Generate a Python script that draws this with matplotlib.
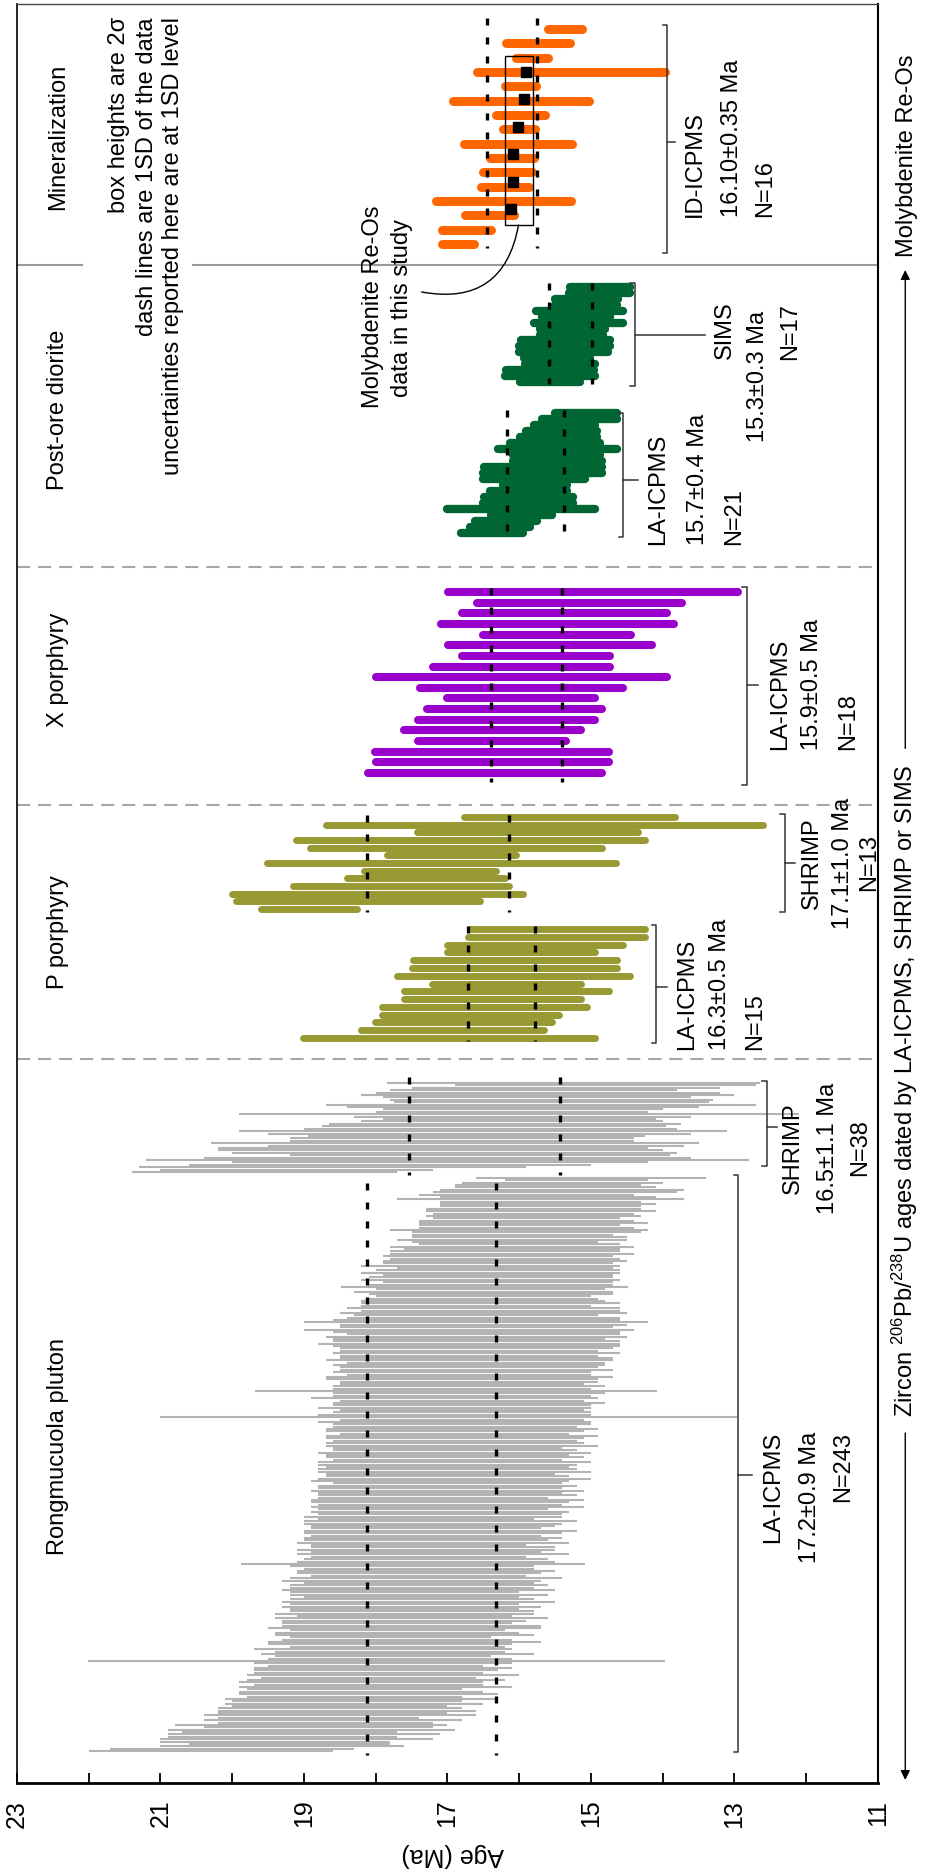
import matplotlib

matplotlib.use("Agg")
import matplotlib.pyplot as plt
import numpy as np
from matplotlib.patches import Rectangle

plt.rcParams["font.family"] = ["Liberation Sans", "DejaVu Sans"]
plt.rcParams["mathtext.fontset"] = "custom"
plt.rcParams["mathtext.rm"] = "Liberation Sans"
plt.rcParams["mathtext.default"] = "regular"

# ages (Ma) and 2-sigma errors, each list runs from the lowest bar upward

rong_la_age = [
    20.3, 20.0, 19.3, 19.2, 19.4, 19.1, 19.3, 19.0, 19.2, 18.9,
    18.8, 18.9, 18.7, 18.6, 18.8, 18.5, 18.6, 18.4, 18.5, 18.5,
    18.3, 18.4, 18.2, 18.3, 18.1, 18.2, 18.3, 18.0, 18.1, 18.2,
    18.0, 18.1, 17.9, 18.1, 18.0, 17.9, 18.0, 17.9, 17.99,
    17.8, 17.9, 17.7, 17.8, 17.9, 17.7, 17.8, 17.6, 17.7, 17.8, 17.6,
    17.7, 17.7, 17.6, 17.5, 17.7, 17.6, 17.5, 17.6, 17.6, 17.5, 17.6,
    17.5, 17.6, 17.4, 17.5, 17.5, 17.4, 17.6, 17.4, 17.5, 17.4,
    17.4, 17.5, 17.3, 17.4, 17.4, 17.3, 17.4, 17.5, 17.48, 17.3,
    17.3, 17.4, 17.2, 17.3, 17.3, 17.2, 17.4, 17.2, 17.3, 17.2,
    17.3, 17.2, 17.1, 17.3, 17.2, 17.2, 17.1, 17.3, 17.2, 17.1,
    17.1, 17.2, 17.0, 17.1, 17.1, 17.0, 17.2, 17.0, 17.1, 17.0,
    17.1, 17.0, 17.0, 17.1, 16.9, 17.0, 17.1, 16.9, 17.0, 17.0,
    17.0, 16.9, 17.0, 16.9, 17.0, 16.9, 16.9, 17.0, 16.8, 16.9,
    16.9, 16.9, 16.8, 16.9, 16.9, 16.8, 16.9, 16.8, 16.9, 16.8,
    16.99,
    16.9, 16.8, 16.8, 16.9, 16.8, 16.7, 16.8, 16.9, 16.8, 16.7,
    16.88,
    16.8, 16.7, 16.8, 16.7, 16.8, 16.7, 16.7, 16.8, 16.6, 16.7,
    16.7, 16.6, 16.7, 16.6, 16.7, 16.6, 16.7, 16.6, 16.6, 16.7,
    16.6, 16.7, 16.6, 16.5, 16.6, 16.7, 16.6, 16.5, 16.6, 16.6,
    16.5, 16.6, 16.5, 16.4, 16.5, 16.6, 16.4, 16.5,
    16.5, 16.5, 16.4, 16.5, 16.4, 16.48, 16.4, 16.3, 16.4, 16.4,
    16.3, 16.4, 16.3, 16.2, 16.4, 16.3, 16.2, 16.2, 16.3, 16.1,
    16.2, 16.1, 16.1, 16.0, 16.2, 16.1, 16.0, 16.1, 15.9, 16.0,
    15.9, 16.0, 15.8, 15.9, 15.9, 15.8, 15.8, 15.7, 15.8, 15.7,
    15.6, 15.7, 15.7, 15.6, 15.9, 15.5, 15.4, 15.5, 15.6, 15.4, 15.2, 15.0,
]
rong_la_err = [
    1.7, 1.7, 1.7, 1.4, 1.6, 1.9, 1.6, 1.9, 1.5, 2.0,
    1.6, 1.9, 1.5, 1.8, 1.4, 1.9, 1.6, 1.8, 1.7, 1.5,
    1.8, 1.6, 1.9, 1.5, 1.8, 1.7, 1.5, 1.9, 1.6, 1.7,
    1.8, 1.5, 1.9, 1.6, 1.7, 1.8, 1.5, 1.8, 4.02,
    1.7, 1.5, 1.9, 1.6, 1.8, 1.5, 1.7, 1.9, 1.6, 1.4, 1.8,
    1.7, 1.5, 1.9, 1.8, 1.6, 1.7, 1.9, 1.5, 1.8, 1.7, 1.6,
    1.8, 1.6, 1.9, 1.7, 1.5, 1.8, 1.6, 1.9, 1.7, 1.8,
    1.6, 1.8, 1.9, 1.5, 1.7, 1.8, 1.6, 1.7, 2.4, 1.8,
    1.7, 1.5, 1.9, 1.6, 1.8, 1.7, 1.5, 1.9, 1.7, 1.8,
    1.6, 1.8, 1.9, 1.6, 1.7, 1.8, 1.9, 1.5, 1.8, 1.7,
    1.8, 1.6, 1.9, 1.7, 1.8, 1.9, 1.6, 1.8, 1.7, 1.9,
    1.7, 1.8, 1.6, 1.8, 1.9, 1.7, 1.6, 1.9, 1.8, 1.7,
    1.8, 1.9, 1.6, 1.8, 1.7, 1.9, 1.7, 1.6, 1.9, 1.8,
    1.7, 1.8, 1.9, 1.6, 1.8, 1.9, 1.7, 1.8, 1.9, 1.7,
    4.02,
    1.9, 1.8, 1.7, 1.9, 1.8, 1.9, 1.7, 2.0, 1.8, 1.9,
    2.8,
    1.8, 1.9, 1.7, 1.8, 1.9, 2.0, 1.7, 1.8, 1.9, 1.8,
    1.9, 1.8, 2.0, 1.9, 1.8, 2.0, 1.8, 1.9, 2.0, 2.1,
    2.0, 1.9, 2.1, 1.9, 2.0, 2.3, 1.9, 2.0, 2.4, 2.0,
    1.9, 1.7, 2.0, 1.8, 1.9, 1.6, 1.8, 1.7,
    1.6, 1.5, 1.7, 1.8, 1.6, 2.0, 1.7, 1.6, 1.8, 1.7,
    1.6, 1.8, 1.7, 1.5, 1.8, 1.6, 1.7, 1.6, 1.6, 1.7,
    1.6, 1.5, 1.7, 1.4, 1.3, 1.6, 1.5, 1.4, 1.6, 1.8,
    1.5, 1.4, 1.6, 1.5, 1.3, 1.5, 1.4, 1.6, 1.5, 1.4,
    1.5, 1.4, 2.0, 1.5, 1.5, 1.7, 1.7, 1.4, 1.3, 1.4, 1.0, 1.6,
]

rong_shrimp_age = [
    19.55, 19.1, 18.6, 17.8, 17.1, 17.0, 17.0, 16.55, 16.9, 17.1,
    17.2, 16.6, 16.9, 16.8, 16.8, 16.6, 16.55, 16.5, 16.4, 16.35,
    16.2, 16.1, 16.0, 15.95, 16.0, 16.1, 15.95, 15.95, 15.7, 15.55,
    15.55, 15.75, 15.6, 15.6, 15.8, 15.35, 14.8, 15.25,
]
rong_shrimp_err = [
    1.85, 1.9, 2.7, 2.8, 2.9, 4.2, 3.4, 2.65, 3.1, 3.1,
    3.0, 2.9, 3.4, 2.4, 2.4, 2.35, 2.95, 3.4, 2.6, 2.4,
    2.45, 2.1, 1.9, 2.35, 3.9, 1.9, 1.95, 2.45, 3.0, 2.2,
    2.25, 2.15, 2.6, 2.4, 2.0, 2.15, 2.1, 2.6,
]

p_la_age = [16.98, 16.93, 16.78, 16.68, 16.48, 16.37, 16.18, 16.18,
            16.08, 16.07, 16.06, 15.98, 15.78, 15.48, 15.47]
p_la_err = [2.04, 1.28, 1.23, 1.23, 1.43, 1.23, 1.43, 1.04,
            1.63, 1.43, 1.42, 1.03, 1.22, 1.23, 1.22]

p_shrimp_age = [18.93, 18.25, 17.98, 17.65, 17.30, 17.24, 17.08,
                16.95, 16.88, 16.68, 15.89, 15.65, 15.30]
p_shrimp_err = [0.67, 1.70, 2.03, 1.51, 1.10, 0.92, 2.43,
                0.90, 2.03, 2.43, 1.54, 3.05, 1.47]

x_la_age = [16.48, 16.37, 16.38, 16.38, 16.37, 16.18, 16.07, 15.97, 15.97,
            15.97, 15.97, 15.77, 15.57, 15.47, 15.47, 15.37, 15.16, 14.97]
x_la_err = [1.63, 1.62, 1.63, 1.03, 1.23, 1.23, 1.22, 1.03, 1.42,
            2.03, 1.23, 1.03, 1.42, 1.03, 1.62, 1.43, 1.43, 2.02]

dio_la_age = [16.38, 16.27, 16.18, 15.97, 15.97, 15.88, 15.87, 15.87, 15.78, 15.79, 15.68,
              15.67, 15.47, 15.48, 15.47, 15.50, 15.45, 15.41, 15.37, 15.16, 15.07]
dio_la_err = [0.43, 0.42, 0.43, 0.43, 1.03, 0.63, 0.62, 0.54, 0.45, 0.71, 0.83,
              0.82, 0.62, 0.61, 0.83, 0.63, 0.54, 0.49, 0.43, 0.52, 0.43]

dio_sims_age = [15.57, 15.57, 15.57, 15.43, 15.47, 15.38, 15.37, 15.36, 15.27,
                15.26, 15.17, 15.21, 15.16, 15.07, 15.06, 14.88, 14.87]
dio_sims_err = [0.42, 0.63, 0.61, 0.49, 0.46, 0.62, 0.63, 0.62, 0.44,
                0.45, 0.62, 0.47, 0.61, 0.43, 0.44, 0.42, 0.42]

moly_age = [16.85, 16.74, 16.41, 16.22, 16.20, 16.16, 16.10, 16.02,
            16.00, 15.98, 15.98, 15.98, 15.28, 15.82, 15.74, 15.36]
moly_err = [0.22, 0.34, 0.34, 0.94, 0.33, 0.34, 0.31, 0.75,
            0.22, 0.34, 0.95, 0.22, 1.31, 0.22, 0.45, 0.24]

# Re-Os ages of this study (black squares) and their box
this_study_age = [16.11, 16.09, 16.09, 16.02, 15.94, 15.90]
this_study_box = (15.81, 16.20)

# mean and 1SD of each data set, same order as the groups below
group_mean = [17.22, 16.48, 16.25, 17.13, 15.90, 15.77, 15.29, 16.10]
group_sd = [0.90, 1.05, 0.47, 0.99, 0.50, 0.40, 0.30, 0.35]

GRAY = "#B3B3B3"
OLIVE = "#999933"
PURPLE = "#9900CC"
GREEN = "#006633"
ORANGE = "#FF6600"
FS = 17

fig = plt.figure(figsize=(9.27, 18.72), dpi=100)
ax = fig.add_axes([17 / 927, 89 / 1872, 861 / 927, 1779 / 1872])
ax.set_xlim(23, 11)
ax.set_ylim(1783, 4)  # rows counted from the top edge

# ages, errors, colour, line width, cap, first row (top), last row (bottom), dash extent
groups = [
    (rong_la_age, rong_la_err, GRAY, 1.5, "butt", 1178, 1751, (1183, 1755)),
    (rong_shrimp_age, rong_shrimp_err, GRAY, 1.5, "butt", 1083, 1172, (1077, 1175)),
    (p_la_age, p_la_err, OLIVE, 5.0, "round", 929, 1038, (926, 1041)),
    (p_shrimp_age, p_shrimp_err, OLIVE, 5.0, "round", 817, 909, (815, 912)),
    (x_la_age, x_la_err, PURPLE, 5.8, "round", 592, 773, (588, 782)),
    (dio_la_age, dio_la_err, GREEN, 6.0, "round", 413, 533, (410, 538)),
    (dio_sims_age, dio_sims_err, GREEN, 6.0, "round", 287, 382, (283, 384)),
    (moly_age, moly_err, ORANGE, 6.5, "round", 29, 244, (18, 248)),
]

for ages, errs, col, lw, cap, top, bot, _ in groups:
    a = np.asarray(ages)
    e = np.asarray(errs)
    rows = np.linspace(bot, top, len(a))
    ax.hlines(rows, a - e, a + e, colors=col, linewidth=lw, capstyle=cap, zorder=2)

for (*_, (d0, d1)), m, s in zip(groups, group_mean, group_sd):
    for v in (m - s, m + s):
        ax.plot([v, v], [d0, d1], color="k", lw=2.4, ls=(0, (2.1, 3.6)),
                dash_capstyle="butt", zorder=4)

# molybdenite Re-Os of this study
rows = np.linspace(209, 72, len(this_study_age))
ax.plot(this_study_age, rows, "s", color="k", markersize=7.5, zorder=6)
ax.add_patch(Rectangle((this_study_box[0], 56), this_study_box[1] - this_study_box[0], 169,
                       fill=False, ec="k", lw=1.0, zorder=6))
ax.annotate("", xy=(16.01, 225), xytext=(17.36, 292),
            arrowprops=dict(arrowstyle="-", color="k", lw=1.0,
                            connectionstyle="arc3,rad=0.5", shrinkA=0, shrinkB=0))
ax.text(18.04, 307, "Molybdenite Re-Os", rotation=90, ha="center", va="center", fontsize=FS)
ax.text(17.63, 308, "data in this study", rotation=90, ha="center", va="center", fontsize=FS)

# section dividers
ax.plot([23, 22.09], [265, 265], color="#999999", lw=1.5)
ax.plot([20.55, 11], [265, 265], color="#999999", lw=1.5)
for yd in (567, 805, 1059):
    ax.axhline(yd, color="#A6A6A6", lw=1.5, ls=(0, (6.3, 3.8)))

# brackets: x, top, bottom, tick row, tick end
BR = "#333333"
brackets = [
    (13.94, 25, 253, 142, 13.83),
    (14.39, 283, 386, 335, 13.41),
    (14.55, 413, 537, 480, 14.35),
    (12.83, 587, 785, 685, 12.67),
    (12.30, 814, 912, 863, 12.16),
    (14.09, 925, 1043, 987, 13.94),
    (12.55, 1081, 1166, 1127, 12.41),
    (12.95, 1175, 1752, 1475, 12.76),
]
for bx, b0, b1, bm, be in brackets:
    ax.plot([bx + 0.06, bx, bx, bx + 0.06], [b0, b0, b1, b1], color=BR, lw=1.1)
    ax.plot([bx, be], [bm, bm], color=BR, lw=1.1)

# method labels: x of each line, rows, vertical alignment, text
labels = [
    ((13.55, 13.03, 12.58), (217, 217, 217), "bottom", ("ID-ICPMS", "16.10±0.35 Ma", "N=16")),
    ((13.13, 12.67, 12.23), (330, 376, 331), "center", ("SIMS", "15.3±0.3 Ma", "N=17")),
    ((14.07, 13.51, 13.00), (545, 545, 545), "bottom", ("LA-ICPMS", "15.7±0.4 Ma", "N=21")),
    ((12.37, 11.92, 11.42), (750, 750, 750), "bottom", ("LA-ICPMS", "15.9±0.5 Ma", "N=18")),
    ((11.92, 11.49, 11.12), (863, 863, 863), "center", ("SHRIMP", "17.1±1.0 Ma", "N=13")),
    ((13.66, 13.20, 12.71), (1050, 1050, 1050), "bottom", ("LA-ICPMS", "16.3±0.5 Ma", "N=15")),
    ((12.18, 11.70, 11.25), (1148, 1148, 1148), "center", ("SHRIMP", "16.5±1.1 Ma", "N=38")),
    ((12.46, 11.95, 11.49), (1432, 1432, 1432), "top", ("LA-ICPMS", "17.2±0.9 Ma", "N=243")),
]
for xs, ys, va, texts in labels:
    for tx, ty, t in zip(xs, ys, texts):
        ax.text(tx, ty, t, rotation=90, ha="center", va=va, fontsize=FS)

# section titles
titles = [("Mineralization", 137, "center"), ("Post-ore diorite", 410, "center"),
          ("X porphyry", 670, "center"), ("P porphyry", 932, "center"),
          ("Rongmucuola pluton", 1555, "bottom")]
for t, ty, va in titles:
    ax.text(22.43, ty, t, rotation=90, ha="center", va=va, fontsize=FS)

notes = ["box heights are 2σ", "dash lines are 1SD of the data",
         "uncertainties reported here are at 1SD level"]
for tx, t in zip((21.58, 21.19, 20.83), notes):
    ax.text(tx, 17, t, rotation=90, ha="center", va="top", fontsize=FS)

# axis
ax.set_xticks(np.arange(11, 24))
ax.set_xticklabels([str(t) if t % 2 else "" for t in range(11, 24)])
ax.tick_params(axis="x", direction="in", length=7, width=1.3, labelsize=18,
               labelrotation=90, pad=12, top=False)
ax.tick_params(axis="y", left=False, labelleft=False)
ax.spines["bottom"].set_linewidth(2.0)
ax.spines["left"].set_linewidth(1.2)
ax.spines["right"].set_linewidth(1.5)
ax.spines["top"].set_linewidth(1.0)
ax.spines["top"].set_color("#444444")
fig.text(453 / 927, 1 - 1855 / 1872, "Age (Ma)", rotation=180, ha="center", va="center",
         fontsize=18)

# right-hand annotation with arrows
xr = 10.62
zt = ax.text(xr, 1417, r"Zircon $^{206}$Pb/$^{238}$U ages dated by LA-ICPMS, SHRIMP or SIMS",
             rotation=90, ha="center", va="bottom", fontsize=FS, clip_on=False)
ax.text(10.60, 257, "Molybdenite Re-Os", rotation=90, ha="center", va="bottom",
        fontsize=FS, clip_on=False)
fig.canvas.draw()
bb = zt.get_window_extent()
text_top = ax.transData.inverted().transform((bb.x0, bb.y1))[1]
arrow = dict(arrowstyle="-|>", color="k", lw=1.0, mutation_scale=14, shrinkA=0, shrinkB=0)
ax.annotate("", xy=(xr, 1780), xytext=(xr, 1433), arrowprops=arrow, annotation_clip=False)
ax.annotate("", xy=(xr, 270), xytext=(xr, text_top - 16), arrowprops=arrow,
            annotation_clip=False)

fig.savefig("out.png", dpi=100)
